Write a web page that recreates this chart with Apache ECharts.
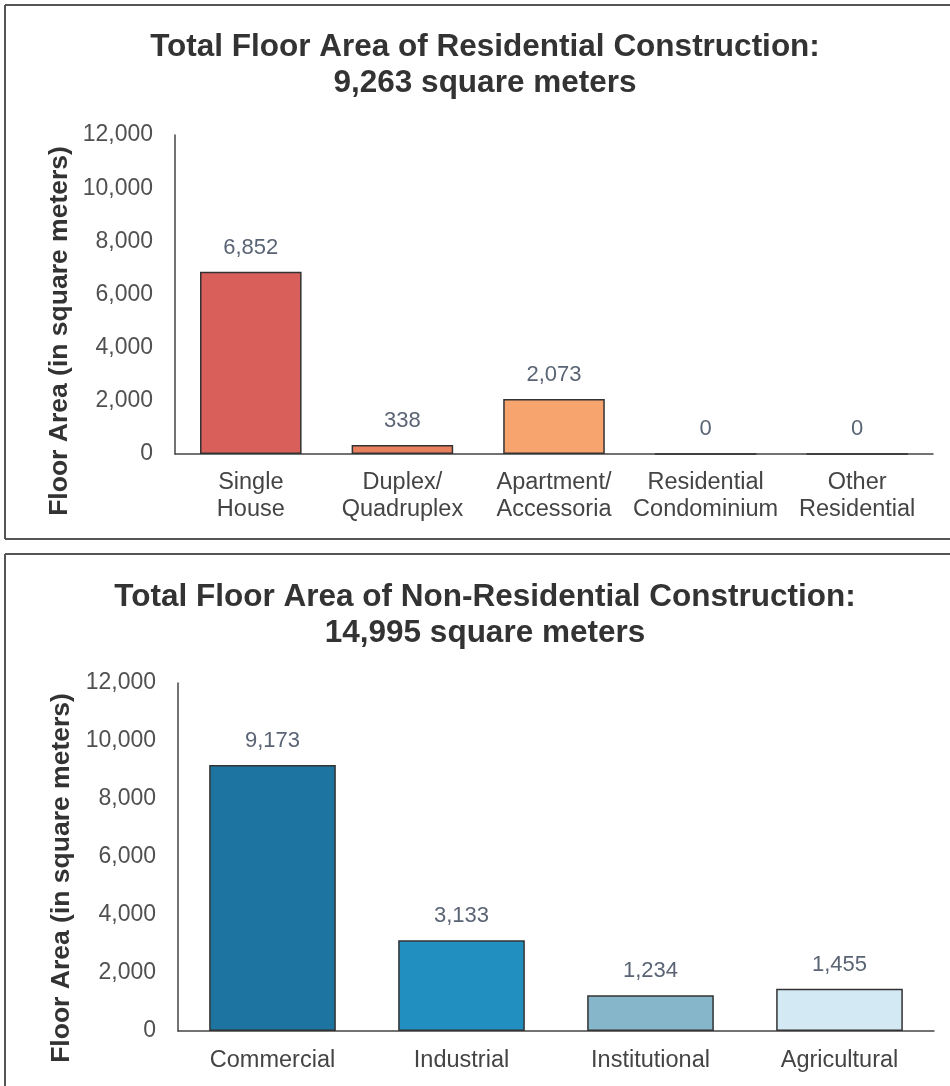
<!DOCTYPE html>
<html>
<head>
<meta charset="utf-8">
<script src="https://cdn.jsdelivr.net/npm/echarts@6/dist/echarts.min.js"></script>
<style>
html,body{margin:0;padding:0;background:#fff;}
#chart{width:950px;height:1086px;}
</style>
</head>
<body>
<div id="chart"></div>
<script>
const resCategories = ['Single\nHouse', 'Duplex/\nQuadruplex', 'Apartment/\nAccessoria', 'Residential\nCondominium', 'Other\nResidential'];
const resValues = [6852, 338, 2073, 0, 0];
const resColors = ['#d9605a', '#e8805e', '#f7a46e', '#f7a46e', '#f7a46e'];
const nonResCategories = ['Commercial', 'Industrial', 'Institutional', 'Agricultural'];
const nonResValues = [9173, 3133, 1234, 1455];
const nonResColors = ['#1d74a0', '#2190c0', '#86b6c9', '#d3e9f4'];
const yTicks = [0, 2000, 4000, 6000, 8000, 10000, 12000];
const resTitle = 'Total Floor Area of Residential Construction:\n9,263 square meters';
const nonResTitle = 'Total Floor Area of Non-Residential Construction:\n14,995 square meters';
const yName = 'Floor Area (in square meters)';

const FONT = '"Liberation Sans", Arial, sans-serif';
const fmt = v => Number(v).toLocaleString('en-US');

const chart = echarts.init(document.getElementById('chart'), null, {renderer: 'canvas'});

function yAxisCfg(gi) {
  return {
    type: 'value', gridIndex: gi,
    min: yTicks[0], max: yTicks[yTicks.length - 1], interval: yTicks[1] - yTicks[0],
    axisLine: {show: true, lineStyle: {color: '#444', width: 1.5}},
    axisTick: {show: false},
    splitLine: {show: false},
    axisLabel: {formatter: fmt, fontFamily: FONT, fontSize: 23, color: '#505050', margin: 22}
  };
}
function xAxisCfg(gi, cats, margin) {
  return {
    type: 'category', gridIndex: gi, data: cats,
    axisLine: {show: true, lineStyle: {color: '#444', width: 1.5}},
    axisTick: {show: false},
    axisLabel: {fontFamily: FONT, fontSize: 23.5, color: '#444', margin: margin, lineHeight: 27, interval: 0}
  };
}
function seriesCfg(idx, vals, colors) {
  return {
    type: 'bar', xAxisIndex: idx, yAxisIndex: idx,
    barWidth: '67%',
    data: vals.map((v, i) => ({value: v, itemStyle: {color: colors[i]}})),
    itemStyle: {borderColor: '#333', borderWidth: 1.5},
    label: {show: true, position: 'top', distance: 13, formatter: p => fmt(p.value),
      fontFamily: FONT, fontSize: 22, color: '#5a6474'},
    silent: true
  };
}

const lineStyle = {stroke: '#555', lineWidth: 2};
chart.setOption({
  animation: false,
  grid: [
    {left: 175, top: 135, right: 17, height: 319},
    {left: 178, top: 683, right: 16, height: 348}
  ],
  xAxis: [xAxisCfg(0, resCategories, 15), xAxisCfg(1, nonResCategories, 16)],
  yAxis: [yAxisCfg(0), yAxisCfg(1)],
  series: [seriesCfg(0, resValues, resColors), seriesCfg(1, nonResValues, nonResColors)],
  graphic: [
    {type: 'line', shape: {x1: 5, y1: 5, x2: 950, y2: 5}, style: lineStyle},
    {type: 'line', shape: {x1: 5, y1: 5, x2: 5, y2: 539}, style: lineStyle},
    {type: 'line', shape: {x1: 5, y1: 539, x2: 950, y2: 539}, style: lineStyle},
    {type: 'line', shape: {x1: 5, y1: 554, x2: 950, y2: 554}, style: lineStyle},
    {type: 'line', shape: {x1: 5, y1: 554, x2: 5, y2: 1086}, style: lineStyle},
    {type: 'text', x: 485, y: 65, style: {text: resTitle, fontFamily: FONT, fontWeight: 'bold', fontSize: 31.5,
      lineHeight: 36, fill: '#333', align: 'center', verticalAlign: 'middle'}},
    {type: 'text', x: 485, y: 615, style: {text: nonResTitle, fontFamily: FONT, fontWeight: 'bold', fontSize: 31.5,
      lineHeight: 36, fill: '#333', align: 'center', verticalAlign: 'middle'}},
    {type: 'text', x: 60, y: 331, rotation: Math.PI / 2, style: {text: yName, fontFamily: FONT, fontWeight: 'bold',
      fontSize: 26.5, fill: '#333', align: 'center', verticalAlign: 'middle'}},
    {type: 'text', x: 62, y: 878, rotation: Math.PI / 2, style: {text: yName, fontFamily: FONT, fontWeight: 'bold',
      fontSize: 26.5, fill: '#333', align: 'center', verticalAlign: 'middle'}}
  ]
});
</script>
</body>
</html>
